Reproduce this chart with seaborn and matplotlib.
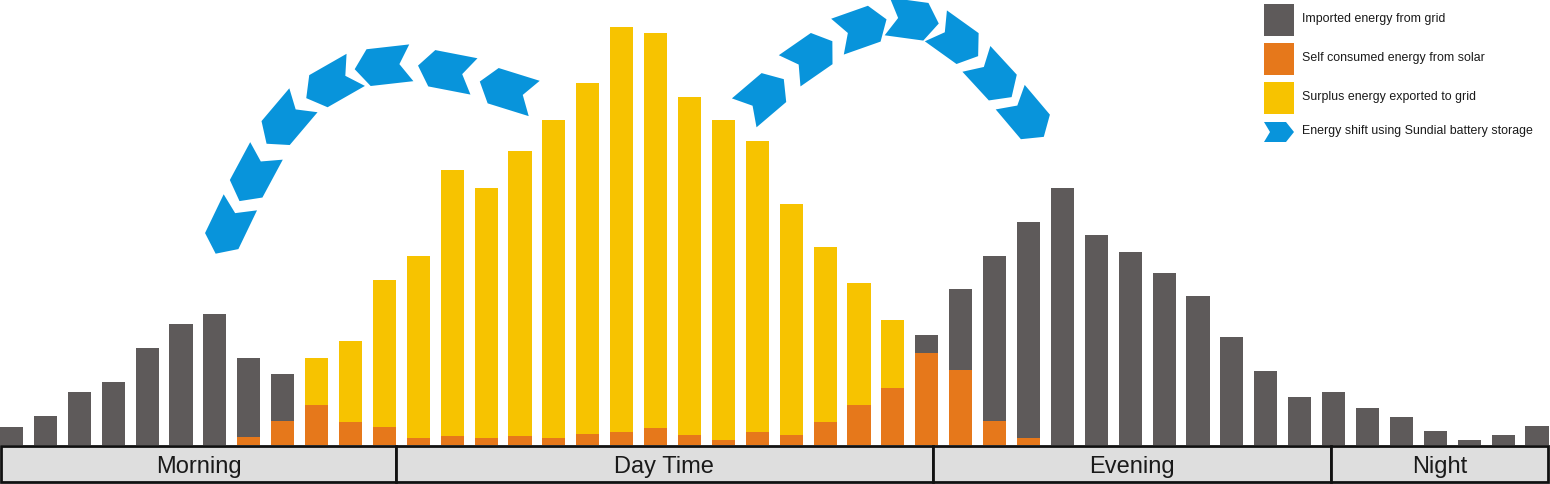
import numpy as np
import pandas as pd
import matplotlib
matplotlib.use("Agg")
import matplotlib.pyplot as plt
from matplotlib.patches import Rectangle, Polygon
import seaborn as sns

# ---------------- data ----------------
slots = list(range(46))
self_consumed = [0, 0, 0, 0, 0, 0, 0, 8, 24, 40, 23, 18, 7, 9, 7, 9, 7, 11, 13, 17,
                 10, 5, 13, 10, 23, 40, 57, 92, 75, 24, 7,
                 0, 0, 0, 0, 0, 0, 0, 0, 0, 0, 0, 0, 0, 0, 0]
surplus = [0, 0, 0, 0, 0, 0, 0, 0, 0, 47, 81, 147, 182, 266, 250, 285, 318, 351, 405, 395,
           338, 320, 291, 231, 175, 122, 68,
           0, 0, 0, 0, 0, 0, 0, 0, 0, 0, 0, 0, 0, 0, 0, 0, 0, 0, 0]
imported = [18, 29, 53, 63, 97, 121, 131, 79, 47,
            0, 0, 0, 0, 0, 0, 0, 0, 0, 0, 0, 0, 0, 0, 0, 0, 0, 0,
            18, 81, 165, 216, 257, 210, 193, 172, 149, 108, 74, 48, 53, 37, 28, 14, 5, 10, 19]
periods = ["Morning", "Day Time", "Evening", "Night"]
period_edges = [-0.30, 11.34, 27.18, 38.92, 45.33]
legend_labels = ["Imported energy from grid", "Self consumed energy from solar",
                 "Surplus energy exported to grid", "Energy shift using Sundial battery storage"]

# decorative arrow paths (pixel layout, in drawing order = arrow direction)
left_path = [(507, 90), (446, 71), (383, 66), (331, 84), (285, 122), (253, 176), (228, 228)]
right_path = [(764, 96), (811, 56), (862, 28), (913, 20), (957, 41), (994, 78), (1027, 117)]

# ---------------- style ----------------
GREY = "#5e5a5a"
ORANGE = "#e6781b"
YELLOW = "#f7c300"
BLUE = "#0894db"
BOXFILL = "#dedede"

sns.set_style("white")
plt.rcParams['font.family'] = ['Liberation Sans', 'DejaVu Sans']

df = pd.DataFrame({"slot": slots, "self": self_consumed, "surplus": surplus, "imported": imported})
df["top_yellow"] = df["self"] + df["surplus"]
df["total"] = df["top_yellow"] + df["imported"]

W, H = 1550, 484
fig = plt.figure(figsize=(W / 100, H / 100), dpi=100)
ax = fig.add_axes([0, 0, 1, 1])

sns.barplot(data=df, x="slot", y="total", color=GREY, width=0.68, saturation=1,
            linewidth=0, errorbar=None, ax=ax)
sns.barplot(data=df, x="slot", y="top_yellow", color=YELLOW, width=0.68, saturation=1,
            linewidth=0, errorbar=None, ax=ax)
sns.barplot(data=df, x="slot", y="self", color=ORANGE, width=0.68, saturation=1,
            linewidth=0, errorbar=None, ax=ax)

x_per_px = 1 / 33.9
ax.set_xlim(-11.5 * x_per_px, (W - 11.5) * x_per_px)
ax.set_ylim(-39, 445)
ax.axis("off")

# period boxes
for name, x0, x1 in zip(periods, period_edges[:-1], period_edges[1:]):
    ax.add_patch(Rectangle((x0, -37), x1 - x0, 36, facecolor=BOXFILL, edgecolor="#111111",
                           linewidth=2.0, clip_on=False, zorder=5))
    ax.text((x0 + x1) / 2, -21.5, name, ha="center", va="center", fontsize=17,
            color="#1a1a1a", zorder=6)

# ---------------- overlay (pixel space) for arrows and legend ----------------
ov = fig.add_axes([0, 0, 1, 1])
ov.set_xlim(0, W)
ov.set_ylim(H, 0)
ov.axis("off")
ov.patch.set_alpha(0)


def chevron(cx, cy, dx, dy, L=56, Wd=37, tip=14, notch=12):
    n = np.hypot(dx, dy)
    ux, uy = dx / n, dy / n
    vx, vy = -uy, ux
    local = [(-L / 2, Wd / 2), (L / 2 - tip, Wd / 2), (L / 2, 0),
             (L / 2 - tip, -Wd / 2), (-L / 2, -Wd / 2), (-L / 2 + notch, 0)]
    pts = [(cx + a * ux + b * vx, cy + a * uy + b * vy) for a, b in local]
    ov.add_patch(Polygon(pts, closed=True, facecolor=BLUE, edgecolor="none"))


def chevron_path(path, **kw):
    p = np.array(path, dtype=float)
    d = np.gradient(p, axis=0)
    for (cx, cy), (dx, dy) in zip(p, d):
        chevron(cx, cy, dx, dy, **kw)


chevron_path(left_path, L=57, Wd=37)
chevron_path(right_path, L=52, Wd=38, tip=13, notch=11)

# legend
sw_colors = [GREY, ORANGE, YELLOW]
sw_y = [4, 43, 82]
for c, y0, lab in zip(sw_colors, sw_y, legend_labels[:3]):
    ov.add_patch(Rectangle((1264, y0), 30, 32, facecolor=c, edgecolor="none"))
    ov.text(1302, y0 + 15, lab, ha="left", va="center", fontsize=8.9, color="#1a1a1a")
chevron(1279, 132, 1, 0, L=30, Wd=20, tip=8, notch=6)
ov.text(1302, 131, legend_labels[3], ha="left", va="center", fontsize=8.9, color="#1a1a1a")

fig.savefig("out.png", dpi=100)
